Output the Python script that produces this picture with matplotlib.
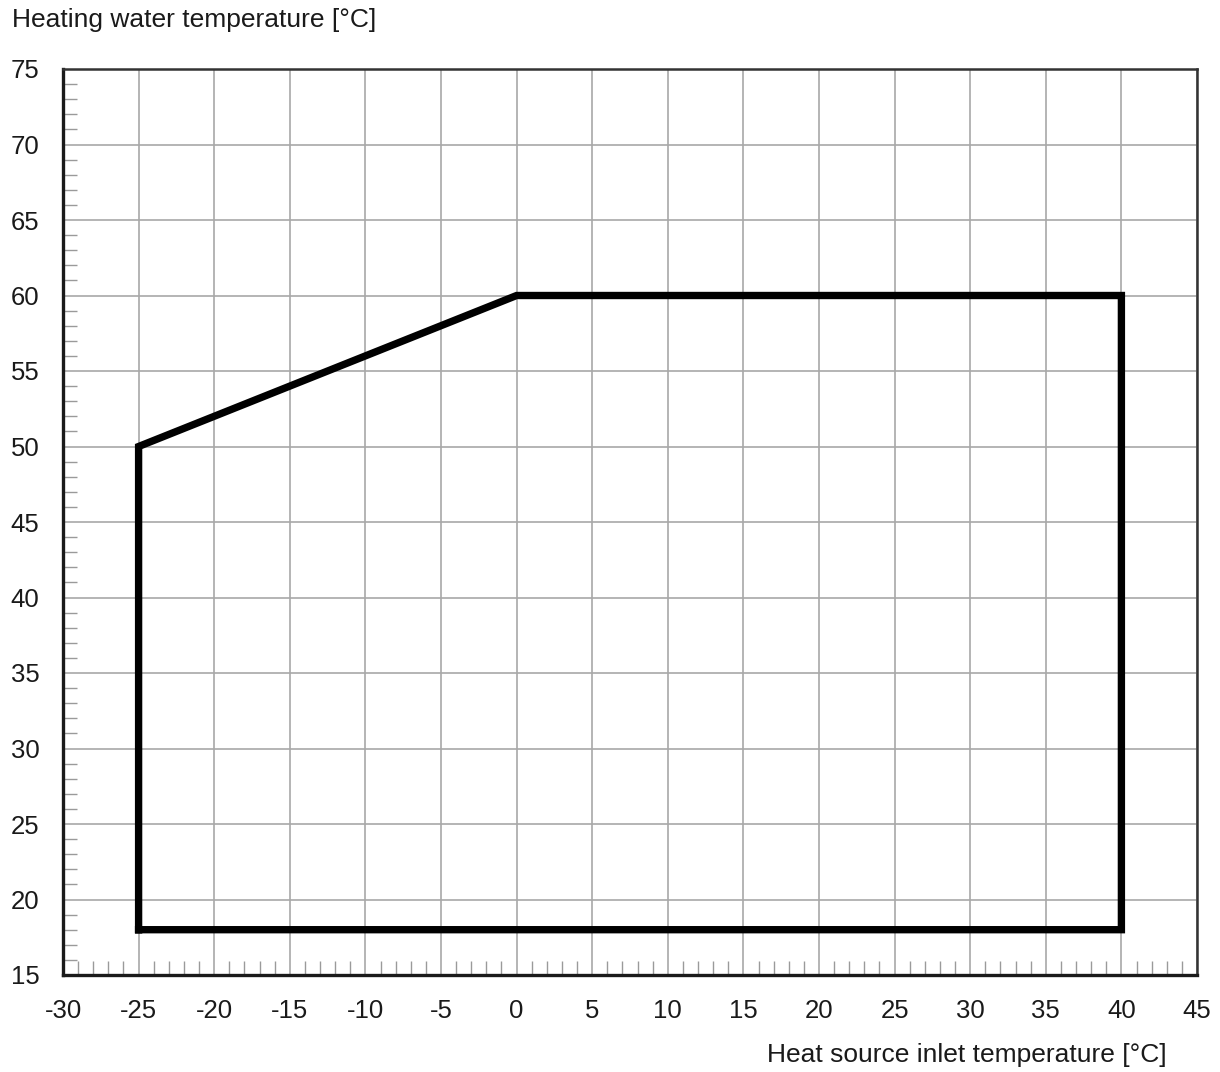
import matplotlib.pyplot as plt
from matplotlib.ticker import MultipleLocator

plt.rcParams['font.family'] = ['Liberation Sans', 'DejaVu Sans']

# operating envelope corners
source_temp = [-25, -25, 0, 40, 40, -25]
water_temp = [18, 50, 60, 60, 18, 18]

x_ticks = list(range(-30, 50, 5))
y_ticks = list(range(15, 80, 5))

fig = plt.figure(figsize=(12.2, 10.72), dpi=100)
ax = fig.add_axes([63 / 1220, 1 - 975 / 1072, (1197 - 63) / 1220, (975 - 69) / 1072])

ax.plot(source_temp, water_temp, color='black', lw=5.3, solid_joinstyle='miter',
        solid_capstyle='projecting', zorder=3)

ax.set_xlim(-30, 45)
ax.set_ylim(15, 75)
ax.set_xticks(x_ticks)
ax.set_yticks(y_ticks)
ax.set_xticklabels([str(v) for v in x_ticks])
ax.set_yticklabels([str(v) for v in y_ticks])
ax.xaxis.set_minor_locator(MultipleLocator(1))
ax.yaxis.set_minor_locator(MultipleLocator(1))

ax.grid(True, which='major', color='#a8a8a8', lw=1.2, zorder=0)
ax.tick_params(which='major', length=0, labelsize=18.5, colors='#1a1a1a')
ax.tick_params(axis='y', which='major', pad=17)
ax.tick_params(axis='x', which='major', pad=17)
ax.tick_params(which='minor', direction='in', length=10, width=1, color='#9a9a9a')

for side in ['left', 'bottom']:
    ax.spines[side].set_linewidth(2.4)
    ax.spines[side].set_color('#1a1a1a')
for side in ['right', 'top']:
    ax.spines[side].set_linewidth(1.8)
    ax.spines[side].set_color('#333333')

fig.text(12 / 1220, 1 - 20 / 1072, 'Heating water temperature [°C]', fontsize=19,
         ha='left', va='center', color='#1a1a1a')
fig.text(1167 / 1220, 1 - 1055 / 1072, 'Heat source inlet temperature [°C]', fontsize=19,
         ha='right', va='center', color='#1a1a1a')

fig.savefig('out.png', dpi=100)
